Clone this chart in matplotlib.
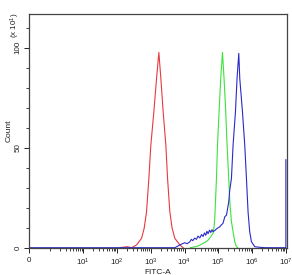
import matplotlib
matplotlib.use("Agg")
import matplotlib.pyplot as plt

plt.rcParams['font.family'] = ['Liberation Sans', 'DejaVu Sans']
plt.rcParams['mathtext.fontset'] = 'custom'
plt.rcParams['mathtext.rm'] = 'Liberation Sans'
plt.rcParams['mathtext.it'] = 'Liberation Sans:italic'

# ---- data (FITC-A intensity, count in units of 10^1) ----
red_x = [123, 200, 272, 382, 536, 640, 753, 881, 1009, 1239, 1489, 1741, 1995,
         2335, 2805, 3150, 3680, 4305, 5175, 7280, 9100]
red_y = [0, 0.5, 0, 1.4, 4.7, 9.7, 18, 34.7, 51.3, 68, 84.7, 97.7, 84.7,
         68, 51.3, 34.7, 18, 9.7, 4.7, 1.4, 0]

green_x = [1.5e4, 2.48e4, 3.0e4, 3.55e4, 4.2e4, 4.99e4, 6.0e4, 7.01e4, 7.5e4, 7.87e4,
           8.26e4, 8.83e4, 9.46e4, 1.055e5, 1.18e5, 1.33e5, 1.48e5, 1.66e5,
           1.82e5, 2.04e5, 2.19e5, 2.45e5, 2.74e5, 3.07e5, 3.44e5, 3.77e5]
green_y = [0, 0.8, 1.5, 2.2, 2.8, 3.8, 5.5, 7.2, 10.5, 14.8,
           23, 34.7, 51.3, 68, 84.7, 97.7, 84.7, 68,
           51.3, 34.7, 23, 13, 8, 3, 0.5, 0]

blue_x = [0, 0, 5.2e3, 7.3e3, 1.02e4, 1.2e4, 1.44e4, 1.6e4, 1.76e4, 2.0e4, 2.26e4,
          2.5e4, 2.84e4, 3.2e4, 3.55e4, 3.9e4, 4.27e4, 4.6e4, 4.99e4, 5.5e4, 6.0e4,
          6.5e4, 7.01e4, 7.87e4, 9.0e4, 1.0e5, 1.11e5, 1.25e5, 1.38e5, 1.56e5, 1.75e5,
          2.04e5, 2.19e5, 2.45e5, 2.74e5, 3.22e5, 3.59e5, 4.04e5, 4.32e5, 5.19e5,
          6.07e5, 6.81e5, 7.6e5, 8.5e5, 9.57e5, 1.2e6, 1.68e6, 2.5e6, 1.0e7, 1.0e7]
blue_y = [1, 0, 0, 1.4, 2.5, 2.0, 3, 4.2, 3.5, 4.8, 4.2,
          5.8, 4.9, 6.6, 5.6, 7.4, 6.2, 8.2, 7.0, 8.8, 7.6,
          9.0, 8.0, 8.6, 9.5, 10.0, 10.5, 11.5, 12.2, 15.5, 16.3,
          23, 29, 34.7, 51.3, 68, 84.7, 97.2, 84.7, 68,
          51.3, 34.7, 18, 8, 3, 0.5, 0.2, 0, 0, 44]

x_ticks = [0, 1e1, 1e2, 1e3, 1e4, 1e5, 1e6, 1e7]
x_tick_labels = ['0', '$10^{1}$', '$10^{2}$', '$10^{3}$', '$10^{4}$',
                 '$10^{5}$', '$10^{6}$', '$10^{7}$']
y_ticks = [0, 50, 100]
y_tick_labels = ['0', '50', '100']

fig = plt.figure(figsize=(2.92, 2.75), dpi=100)
ax = fig.add_axes([29 / 292, 1 - 247.7 / 275, 258 / 292, (247.7 - 14) / 275])

ax.set_xscale('asinh', linear_width=0.5)

ax.plot(red_x, red_y, color='#e8393f', lw=0.8)
ax.plot(green_x, green_y, color='#3de23d', lw=0.8)
ax.plot(blue_x, blue_y, color='#2a2ac8', lw=0.8)

ax.set_xlim(0, 1.08e7)
ax.set_ylim(0, 116.9)

ax.set_xticks(x_ticks, x_tick_labels)
minor = [m * 10 ** k for k in range(0, 7) for m in range(1, 10) if not (m == 1 and k > 0)]
ax.set_xticks(minor, minor=True)
ax.set_yticks(y_ticks, y_tick_labels)
ax.set_yticks(list(range(0, 117, 10)), minor=True)

for lab in ax.get_yticklabels():
    lab.set_rotation(90)
    lab.set_va('center')

ax.tick_params(axis='both', which='major', direction='out', length=3.5, width=0.7,
               labelsize=5.8, colors='#222222', pad=2)
ax.tick_params(axis='both', which='minor', direction='out', length=2.2, width=0.6,
               colors='#222222')
ax.tick_params(axis='x', which='major', pad=3)

for s in ax.spines.values():
    s.set_color('#444444')
    s.set_linewidth(0.9)

ax.set_xlabel('FITC-A', fontsize=6, labelpad=1, color='#222222')
ax.set_ylabel('Count', fontsize=6, labelpad=1.5, color='#222222')
fig.text(15 / 292, 1 - 25 / 275, '(x 10$^{1}$)', rotation=90, ha='center', va='center',
         fontsize=5.8, color='#222222')

fig.savefig('out.png', dpi=100)
